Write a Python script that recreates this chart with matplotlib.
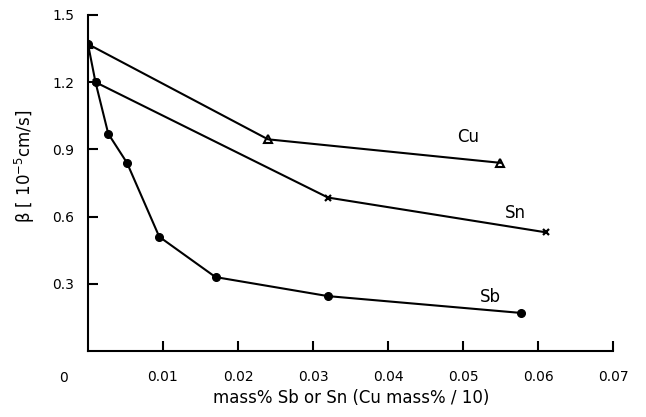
import matplotlib
matplotlib.use('Agg')
import matplotlib.pyplot as plt

# data
cu_x = [0.0, 0.024, 0.055]
cu_y = [1.37, 0.945, 0.84]

sn_x = [0.001, 0.032, 0.061]
sn_y = [1.20, 0.685, 0.53]

sb_x = [0.0, 0.001, 0.0027, 0.0052, 0.0095, 0.017, 0.032, 0.0577]
sb_y = [1.37, 1.20, 0.97, 0.84, 0.51, 0.33, 0.245, 0.17]

x_ticks = [0.01, 0.02, 0.03, 0.04, 0.05, 0.06, 0.07]
y_ticks = [0.3, 0.6, 0.9, 1.2, 1.5]

fig = plt.figure(figsize=(6.46, 4.17), dpi=100)
ax = fig.add_axes([88/646, 1 - 351/417, (613 - 88)/646, (351 - 15)/417])

ax.plot(cu_x, cu_y, color='black', lw=1.5, marker='^', ms=6, mfc='none', mew=1.5)
ax.plot(sn_x, sn_y, color='black', lw=1.5, marker='x', ms=5, mew=1.6)
ax.plot(sb_x, sb_y, color='black', lw=1.5, marker='o', ms=5.5)

ax.text(0.0492, 0.955, 'Cu', fontsize=12, va='center')
ax.text(0.0556, 0.616, 'Sn', fontsize=12, va='center')
ax.text(0.0523, 0.24, 'Sb', fontsize=12, va='center')

ax.set_xlim(0, 0.07)
ax.set_ylim(0, 1.5)
ax.set_xticks(x_ticks)
ax.set_xticklabels([f'{t:.2f}' for t in x_ticks])
ax.set_yticks(y_ticks)
ax.set_yticklabels([f'{t:.1f}' for t in y_ticks])
ax.tick_params(direction='in', length=7, width=1.5, labelsize=10, pad=14)
ax.tick_params(axis='y', pad=10)

for s in ['top', 'right']:
    ax.spines[s].set_visible(False)
for s in ['left', 'bottom']:
    ax.spines[s].set_linewidth(1.5)

# the lone origin label sits left of the axis corner
fig.text(64/646, 1 - 378/417, '0', fontsize=10, ha='center', va='center')

fig.text(351/646, 1 - 398/417, 'mass% Sb or Sn (Cu mass% / 10)',
         fontsize=12, ha='center', va='center')
fig.text(25/646, 1 - 166/417, 'β [ 10$^{-5}$cm/s]',
         fontsize=12, ha='center', va='center', rotation=90)

fig.savefig('out.png', dpi=100)
